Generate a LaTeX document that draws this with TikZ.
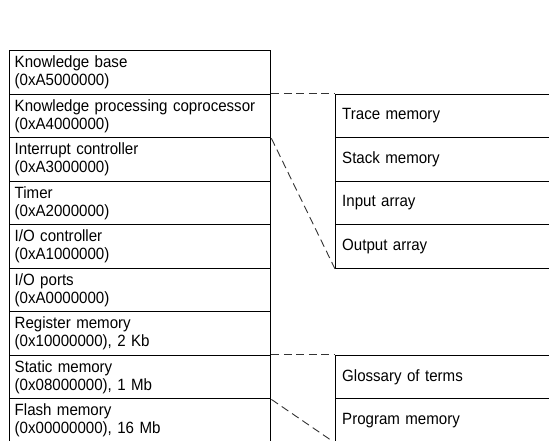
\documentclass[tikz,border=0pt]{standalone}
\usepackage{fontspec}
\setmainfont{Liberation Sans}[FakeStretch=0.925]
\begin{document}
\begin{tikzpicture}[x=1pt,y=-1pt,
  every node/.style={font=\fontsize{16.3}{18.3}\selectfont},
  cell/.style={draw, line width=1.4pt, rectangle, anchor=north west,
    minimum width=261pt, minimum height=43.5pt, text width=251pt,
    inner xsep=5pt, inner ysep=0pt, align=left},
  subcell/.style={draw, line width=1.4pt, rectangle, anchor=north west,
    minimum width=270pt, minimum height=43.5pt, text width=257pt,
    inner xsep=6.5pt, inner ysep=0pt, align=left},
  conn/.style={line width=0.9pt, draw=black!80, dash pattern=on 8pt off 4.5pt}]
\useasboundingbox (0,0) rectangle (549,440);
\clip (0,0) rectangle (549,440);
% memory map
\node[cell] (kb)     at (9,50)    {Knowledge base\\(0xA5000000)};
\node[cell] (kpc)    at (9,93.5)  {Knowledge processing coprocessor\\(0xA4000000)};
\node[cell] (intc)   at (9,137)   {Interrupt controller\\(0xA3000000)};
\node[cell] (timer)  at (9,180.5) {Timer\\(0xA2000000)};
\node[cell] (ioc)    at (9,224)   {I/O controller\\(0xA1000000)};
\node[cell] (iop)    at (9,267.5) {I/O ports\\(0xA0000000)};
\node[cell] (reg)    at (9,311)   {Register memory\\(0x10000000), 2 Kb};
\node[cell] (static) at (9,354.5) {Static memory\\(0x08000000), 1 Mb};
\node[cell] (flash)  at (9,398)   {Flash memory\\(0x00000000), 16 Mb};
% coprocessor memory
\node[subcell] (trace)  at (335,93.5)  {Trace memory};
\node[subcell] (stack)  at (335,137)   {Stack memory};
\node[subcell] (input)  at (335,180.5) {Input array};
\node[subcell] (output) at (335,224)   {Output array};
% static memory contents
\node[subcell] (gloss) at (335,354.5) {Glossary of terms};
\node[subcell] (prog)  at (335,398)   {Program memory};
% expansion lines
\draw[conn] (kpc.north east) -- (trace.north west);
\draw[conn] (kpc.south east) -- (output.south west);
\draw[conn] (static.north east) -- (gloss.north west);
\draw[conn] (static.south east) -- (prog.south west);
\end{tikzpicture}
\end{document}
